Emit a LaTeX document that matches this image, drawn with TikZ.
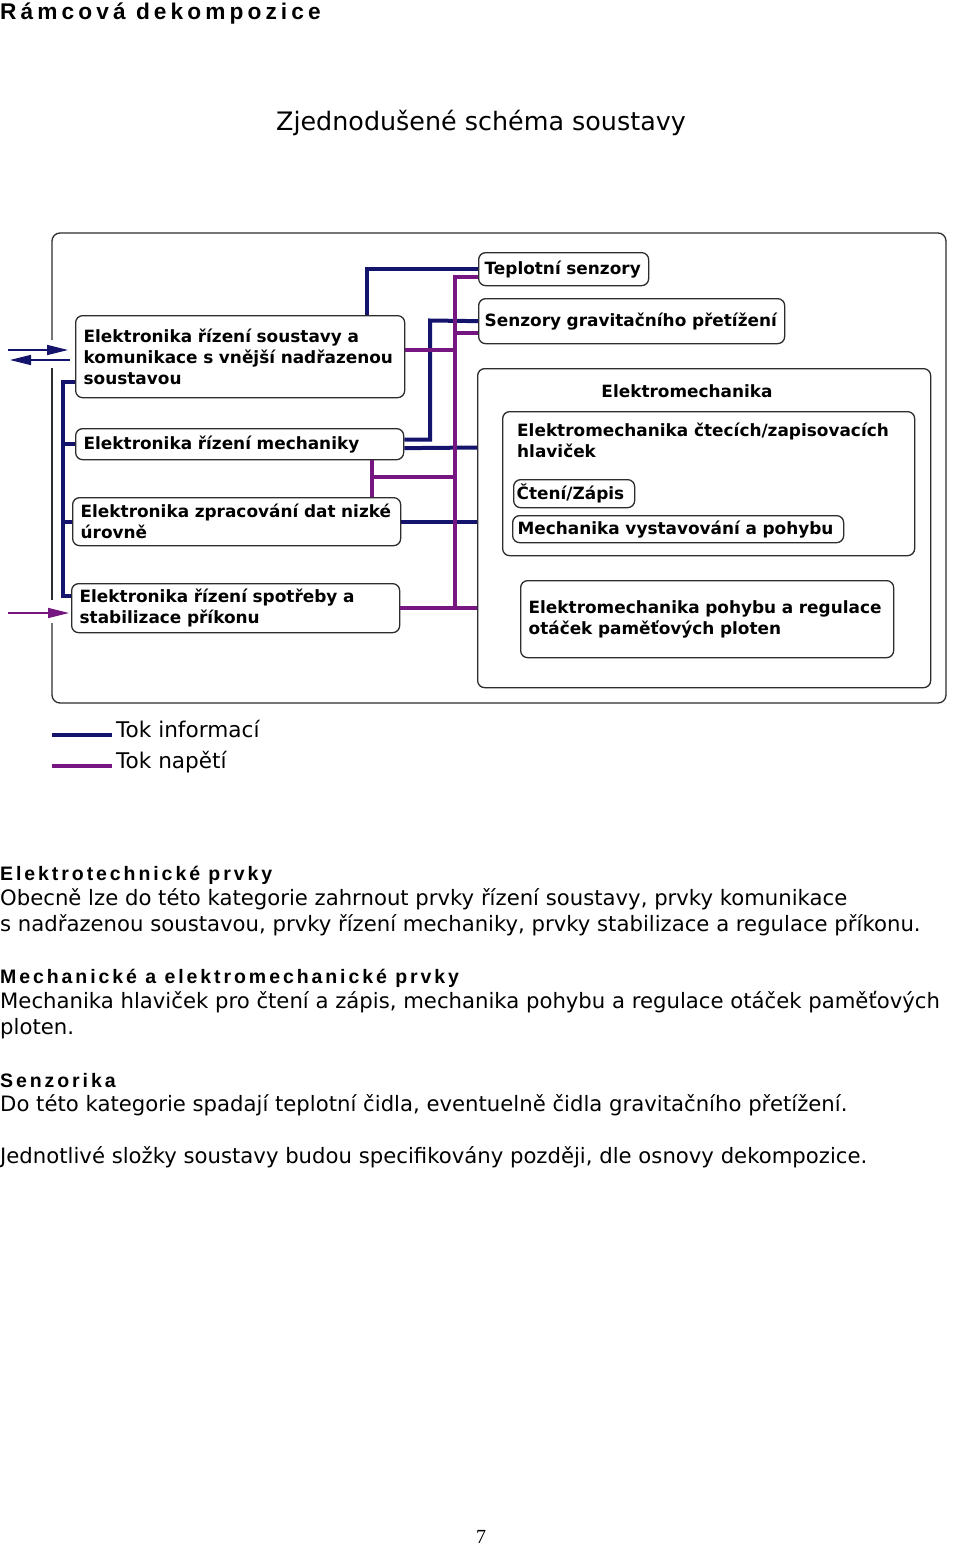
\documentclass[tikz,border=0pt]{standalone}
\usepackage{fontspec}
\setmainfont{DejaVu Sans}
\newfontfamily\titulfont{Liberation Sans}[LetterSpace=18]
\newfontfamily\hlavafont{Liberation Sans}[LetterSpace=15]
\newfontfamily\cislofont{Liberation Serif}
\usepackage{tikz}
\usetikzlibrary{arrows.meta}
\definecolor{infoblue}{RGB}{20,20,108}
\definecolor{napetipurple}{RGB}{118,22,128}
\definecolor{ramecgray}{RGB}{45,45,45}

\tikzset{
  blok/.style={draw=ramecgray,line width=1.3pt,rounded corners=7pt,fill=white,anchor=north west,
    align=left,inner xsep=8pt,inner ysep=0pt,font=\bfseries\fontsize{16.9}{21}\selectfont,
    execute at begin node={\hyphenpenalty=10000\exhyphenpenalty=10000}},
  ramec/.style={draw=ramecgray,line width=1.3pt,rounded corners=7pt,anchor=north west,inner sep=0pt},
  popis/.style={inner sep=0pt,align=left,font=\bfseries\fontsize{16.9}{21}\selectfont},
  info/.style={draw=infoblue,line width=4pt},
  napeti/.style={draw=napetipurple,line width=4pt},
  radek/.style={anchor=base west,inner sep=0pt,font=\fontsize{21.2}{25.7}\selectfont},
  hlava/.style={anchor=base west,inner sep=0pt,font=\hlavafont\bfseries\fontsize{19.5}{24}\selectfont},
  legenda/.style={anchor=base west,inner sep=0pt,font=\fontsize{21.6}{25}\selectfont}
}

\begin{document}
\begin{tikzpicture}[x=1pt,y=-1pt,line join=miter,>={Triangle[length=21pt,width=10pt]}]
  \useasboundingbox (0,0) rectangle (960,1550);
  \fill[white] (0,0) rectangle (960,1550);

  % nadpisy
  \node[anchor=base west,inner sep=0pt,font=\titulfont\bfseries\fontsize{22.7}{27}\selectfont] (nadpis) at (0,19.5) {Rámcová dekompozice};
  \node[anchor=base,inner sep=0pt,font=\fontsize{25.4}{30}\selectfont] (schema) at (481,130) {Zjednodušené schéma soustavy};

  % ramec soustavy (s mezerami pro vstupy)
  \draw[ramecgray,line width=1.3pt] (52,600) -- (52,368);
  \draw[ramecgray,line width=1.3pt,rounded corners=8pt] (52,340) -- (52,233) -- (946,233) -- (946,703) -- (52,703) -- (52,623);

  % elektronika
  \node[blok,text width=313pt,minimum height=82pt] (ridici) at (75,315) {Elektronika~řízení~soustavy~a\\komunikace~s~vnější~nadřazenou\\soustavou};
  \node[blok,text width=312pt,minimum height=31pt] (mech) at (75,428) {Elektronika~řízení~mechaniky};
  \node[blok,text width=312pt,minimum height=48pt] (data) at (72,497) {Elektronika~zpracování~dat~nizké\\úrovně};
  \node[blok,text width=312pt,minimum height=49pt] (spotreba) at (71,583) {Elektronika~řízení~spotřeby~a\\stabilizace~příkonu};

  % senzory
  \node[blok,inner xsep=6pt,text width=158pt,minimum height=33pt] (teplota) at (478,252) {Teplotní~senzory};
  \node[blok,inner xsep=6pt,text width=294pt,minimum height=45pt] (gravit) at (478,298) {Senzory~gravitačního~přetížení};

  % elektromechanika
  \node[ramec,minimum width=453pt,minimum height=319pt] (emech) at (477,368) {};
  \node[popis] (emtitul) at (687,391) {Elektromechanika};
  \node[ramec,minimum width=412pt,minimum height=144pt] (hlavicky) at (502,411) {};
  \node[popis,anchor=north west] (hltext) at (517,422.5) {Elektromechanika čtecích/zapisovacích\\hlaviček};
  \node[blok,inner xsep=3pt,text width=115pt,minimum height=28pt] (ctzap) at (513,479) {Čtení/Zápis};
  \node[blok,inner xsep=5pt,text width=321pt,minimum height=27pt] (vystav) at (512,515) {Mechanika~vystavování~a~pohybu};
  \node[blok,text width=357pt,minimum height=77pt] (plotny) at (520,580) {Elektromechanika~pohybu~a~regulace\\otáček~paměťových~ploten};

  % vedeni
  \coordinate (itop) at (367,268.5);
  \coordinate (imid) at (430,320.5);
  \coordinate (lbtop) at (63,382);
  \coordinate (lbbot) at (63,596);
  \coordinate (pbtop) at (455,277);
  \coordinate (pjoin) at (372,477);

  \draw[info] (ridici.north -| itop) |- (teplota.west);
  \draw[info] ([yshift=4.5pt]mech.east) -| (imid) -- (gravit.west);
  \draw[info] ([yshift=-4pt]mech.east) -- (emech.west |- 0,447.5);
  \draw[info] (data.east) -- (data.east -| emech.west);
  \draw[info] (ridici.west |- lbtop) -- (lbtop) -- (lbbot) -- (spotreba.west |- lbbot);
  \draw[info] (lbtop |- mech.west) -- (mech.west);
  \draw[info] (lbtop |- data.west) -- (data.west);

  \draw[napeti] (teplota.west |- pbtop) -- (pbtop) -- (pbtop |- spotreba.east);
  \draw[napeti] ([yshift=-11.5pt]gravit.west) -| (pbtop);
  \draw[napeti] ([yshift=7pt]ridici.east) -| (pbtop);
  \draw[napeti] (mech.south -| pjoin) -- (data.north -| pjoin);
  \draw[napeti] (pjoin) -- (pjoin -| pbtop);
  \draw[napeti] (spotreba.east) -- (spotreba.east -| emech.west);

  % vstupy zvenku
  \coordinate (vstup) at (8,350);
  \coordinate (vystup) at (10,360);
  \coordinate (napajeni) at (8,613);
  \draw[infoblue,line width=1.5pt,->,shorten >=7pt] (vstup) -- (vstup -| ridici.west);
  \draw[infoblue,line width=1.5pt,->,shorten <=5pt] (vystup -| ridici.west) -- (vystup);
  \draw[napetipurple,line width=1.5pt,->,shorten >=2pt] (napajeni) -- (napajeni -| spotreba.west);

  % legenda
  \coordinate (leginfo) at (52,735);
  \coordinate (legnapeti) at (52,766);
  \node[legenda] (tokinfo) at (116,737) {Tok informací};
  \node[legenda] (toknapeti) at (116,768) {Tok napětí};
  \draw[info,shorten >=4pt] (leginfo) -- (leginfo -| tokinfo.west);
  \draw[napeti,shorten >=4pt] (legnapeti) -- (legnapeti -| toknapeti.west);

  % text pod schematem
  \node[hlava] (elhlava) at (0,880) {Elektrotechnické prvky};
  \node[radek] (elradek1) at (0,905) {Obecně lze do této kategorie zahrnout prvky řízení soustavy, prvky komunikace};
  \node[radek] (elradek2) at (0,931) {s nadřazenou soustavou, prvky řízení mechaniky, prvky stabilizace a regulace příkonu.};
  \node[hlava] (mehlava) at (0,983) {Mechanické a elektromechanické prvky};
  \node[radek] (meradek1) at (0,1008) {Mechanika hlaviček pro čtení a zápis, mechanika pohybu a regulace otáček paměťových};
  \node[radek] (meradek2) at (0,1034) {ploten.};
  \node[hlava] (sehlava) at (0,1087) {Senzorika};
  \node[radek] (seradek) at (0,1111) {Do této kategorie spadají teplotní čidla, eventuelně čidla gravitačního přetížení.};
  \node[radek] (zaver) at (0,1163) {Jednotlivé složky soustavy budou specifikovány později, dle osnovy dekompozice.};

  \node[anchor=base,inner sep=0pt,font=\cislofont\fontsize{20}{24}\selectfont] (strana) at (481,1543) {7};
\end{tikzpicture}
\end{document}
